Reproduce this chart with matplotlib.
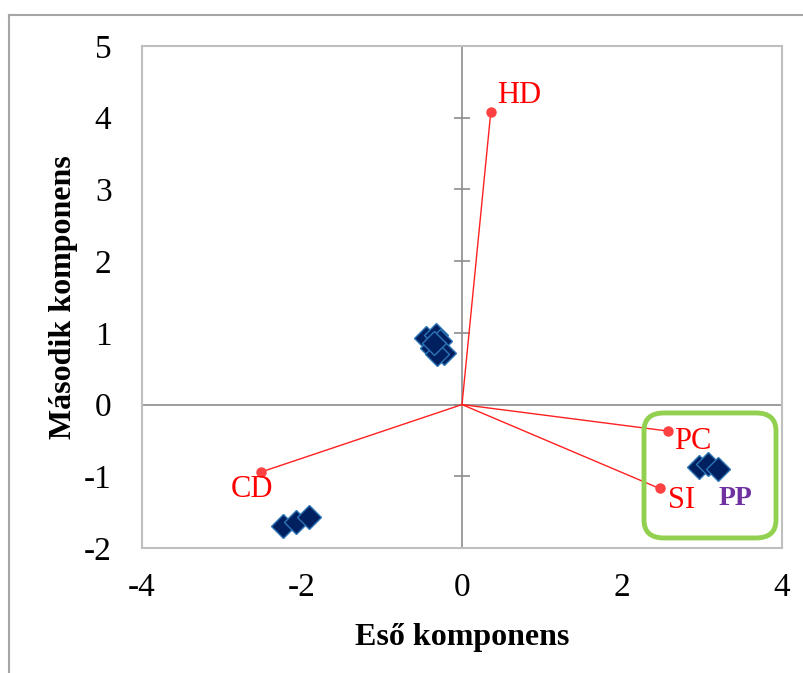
import matplotlib
matplotlib.use("Agg")
import matplotlib.pyplot as plt
from matplotlib.patches import FancyBboxPatch
from matplotlib.lines import Line2D

plt.rcParams['font.family'] = ['Liberation Serif', 'DejaVu Serif']
plt.rcParams['axes.unicode_minus'] = False

# Scores (samples)
score_x = [-0.45, -0.32, -0.27, -0.38, -0.22, -0.31, -0.35,
           -2.24, -2.08, -1.91,
           2.96, 3.08, 3.20]
score_y = [0.93, 0.97, 0.88, 0.79, 0.72, 0.70, 0.86,
           -1.69, -1.64, -1.57,
           -0.87, -0.83, -0.90]

# Loadings (variables)
var_names = ['HD', 'CD', 'PC', 'SI']
load_x = [0.36, -2.51, 2.58, 2.47]
load_y = [4.08, -0.94, -0.37, -1.17]

x_ticks = [-4, -2, 0, 2, 4]
y_ticks = [-2, -1, 0, 1, 2, 3, 4, 5]

fig = plt.figure(figsize=(8.04, 6.73), dpi=100)
ax = fig.add_axes([142/804, 1-548/673, 640/804, 502/673])
ax.set_xlim(-4, 4)
ax.set_ylim(-2, 5)

for s in ax.spines.values():
    s.set_color('#bfbfbf')
    s.set_linewidth(1.5)

# central axes
ax.axhline(0, color='#8c8c8c', lw=1.2, zorder=1)
ax.axvline(0, color='#8c8c8c', lw=1.2, zorder=1)
ax.plot([0]*len(y_ticks), y_ticks, ls='none', marker='_', ms=12, mew=1.2,
        color='#8c8c8c', zorder=1)

ax.set_xticks(x_ticks)
ax.set_yticks(y_ticks)
ax.tick_params(length=0, labelsize=24)
ax.tick_params(axis='y', pad=22)
ax.tick_params(axis='x', pad=18)

# loading vectors
for name, lx, ly in zip(var_names, load_x, load_y):
    ax.plot([0, lx], [0, ly], color='#ff2020', lw=1.0, zorder=2)
ax.plot(load_x, load_y, ls='none', marker='o', ms=6.5, color='#ff4040', zorder=3)

label_offsets = {'HD': (0.08, 0.23, 'left'), 'CD': (-0.38, -0.25, 'left'),
                 'PC': (0.07, -0.15, 'left'), 'SI': (0.10, -0.17, 'left')}
for name, lx, ly in zip(var_names, load_x, load_y):
    dx, dy, ha = label_offsets[name]
    ax.text(lx + dx, ly + dy, name, color='#ff0000', fontsize=22,
            ha=ha, va='center', zorder=4)

# scores
ax.plot(score_x, score_y, ls='none', marker='D', ms=12, color='#002060',
        mec='#2e75b6', mew=1.0, zorder=5)

# highlight box
box = FancyBboxPatch((2.275 + 0.25, -1.86 + 0.25), 1.65 - 0.5, 1.743 - 0.5,
                     boxstyle='round,pad=0.25', fill=False, ec='#92d050',
                     lw=3.5, zorder=6, clip_on=False)
ax.add_patch(box)
ax.text(3.42, -1.31, 'PP', color='#7030a0', fontsize=20, fontweight='bold',
        ha='center', va='center', zorder=7)

ax.set_xlabel('Eső komponens', fontsize=23, fontweight='bold', labelpad=14)
ax.set_ylabel('Második komponens', fontsize=23, fontweight='bold')
ax.yaxis.set_label_coords(-0.123, 0.5)
ax.yaxis.label.set_verticalalignment('center')

# outer frame lines
fig.add_artist(Line2D([9/804, 1], [1-15/673, 1-15/673], color='#a6a6a6', lw=1.5,
                      transform=fig.transFigure))
fig.add_artist(Line2D([9/804, 9/804], [0, 1-15/673], color='#a6a6a6', lw=1.5,
                      transform=fig.transFigure))

fig.savefig('out.png', dpi=100)
